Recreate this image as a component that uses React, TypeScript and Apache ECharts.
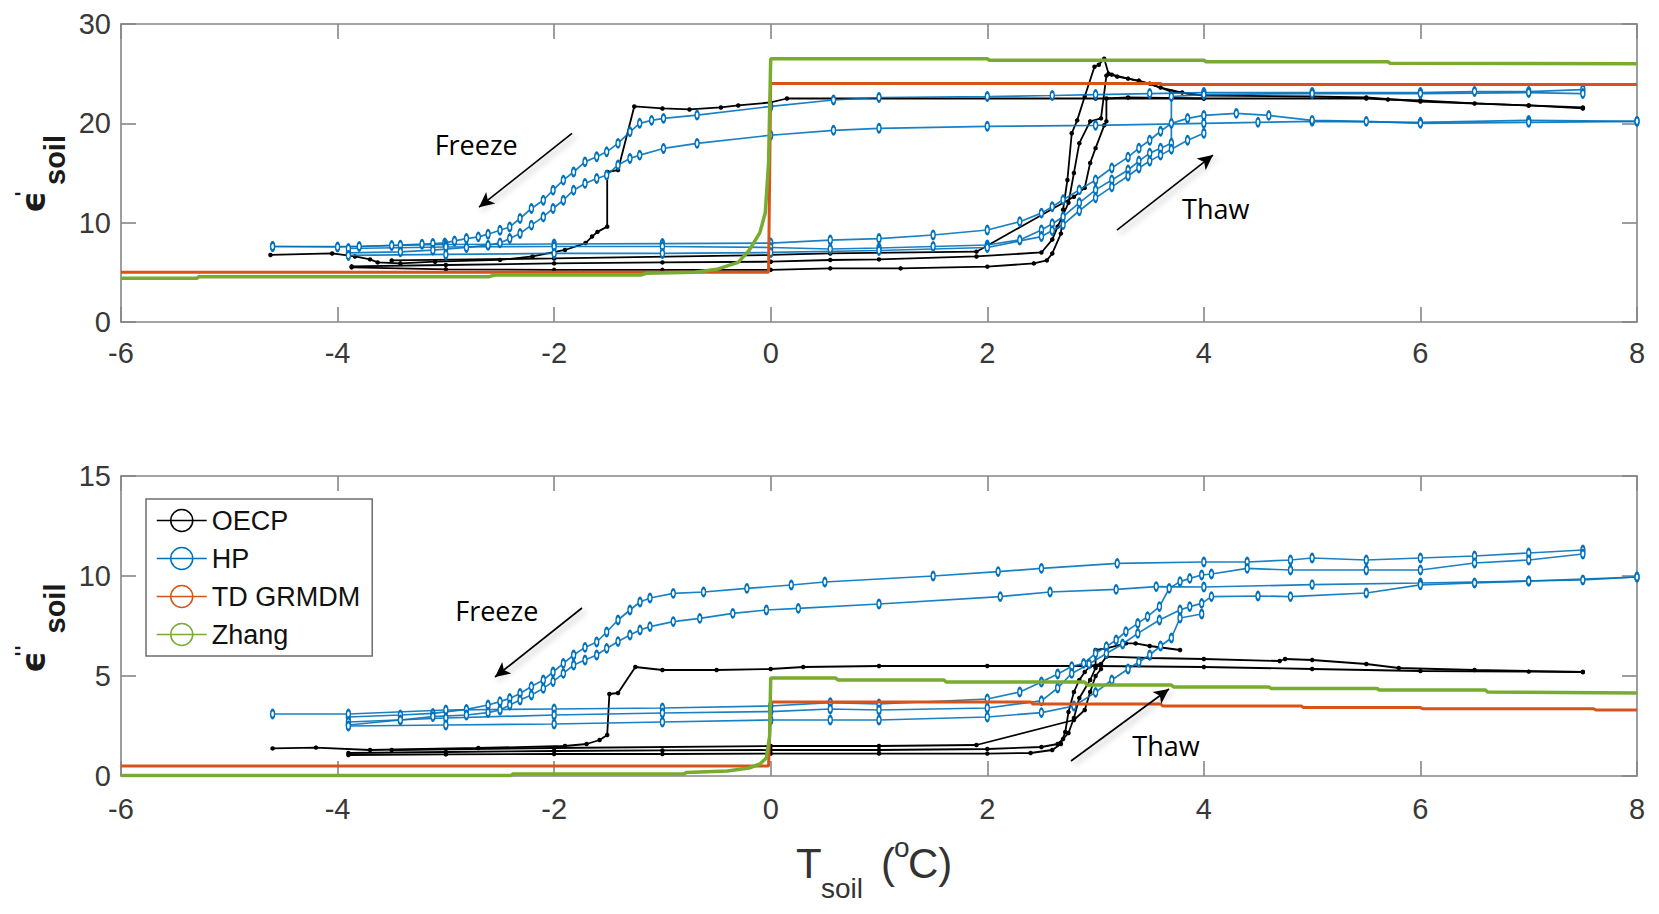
import { useEffect, useRef } from 'react';
import * as echarts from 'echarts';

// axis ranges: [min, max, interval]
const T_AXIS = [-6, 8, 2];
const EPS1_AXIS = [0, 30, 10];
const EPS2_AXIS = [0, 15, 5];

const MODELS = ['OECP', 'HP', 'TD GRMDM', 'Zhang'];
const COLORS = ['#000000', '#0072BD', '#D95319', '#77AC30'];

// ---- ε' (top panel) ----
const OECP_TOP_1 = [[7.5, 21.6], [7, 21.8], [6.5, 22.0], [6, 22.3], [5.7, 22.4], [5.5, 22.5], [4, 22.5], [3, 22.5], [2, 22.5], [1, 22.5], [0.15, 22.5], [0, 22.1], [-0.3, 21.8], [-0.46, 21.6], [-0.75, 21.4], [-1.0, 21.5], [-1.26, 21.7], [-1.41, 15.3], [-1.51, 15.1], [-1.51, 9.6], [-1.6, 9.07], [-1.65, 8.6], [-1.71, 7.95], [-1.9, 7.25], [-2.2, 6.6], [-2.5, 6.25], [-3.1, 6.07], [-3.42, 5.9], [-3.63, 6.0], [-3.7, 6.3], [-3.84, 6.6], [-4.05, 6.9], [-4.62, 6.75]];
const OECP_TOP_2 = [[-3.87, 5.5], [-3, 5.3], [-2, 5.25], [-1, 5.25], [0, 5.25], [0.55, 5.4], [1.2, 5.4], [2, 5.57], [2.43, 5.9], [2.55, 6.2], [2.6, 6.9], [2.68, 8.9], [2.7, 11.3], [2.74, 14.3], [2.78, 19], [2.83, 20.3], [2.9, 22.7], [2.99, 25.7], [3.03, 25.9], [3.08, 26.5], [3.12, 25.0], [3.2, 24.7], [3.4, 24.3], [3.6, 23.6], [3.8, 23.1], [4, 22.8], [5, 22.7], [5.5, 22.6], [6, 22.2], [7, 21.8], [7.5, 21.5]];
const OECP_TOP_3 = [[-3.87, 5.6], [-3, 5.74], [-2, 5.9], [-1, 6.0], [0, 6.07], [0.55, 6.24], [1, 6.3], [1.9, 6.6], [2.5, 7.0], [2.6, 8.3], [2.65, 9.6], [2.75, 12], [2.8, 15], [2.85, 18], [2.95, 20.2], [3.05, 20.5], [3.1, 24.8], [3.15, 24.9], [3.3, 24.5], [3.5, 24.0], [3.7, 23.2], [4, 22.8]];
const OECP_TOP_4 = [[-3.5, 6.2], [-2, 6.4], [0, 6.75], [0.55, 6.9], [1.9, 7.08], [2.8, 12.6], [2.9, 13.5], [2.95, 16], [3.0, 17.5], [3.08, 19.8], [3.1, 20.2], [3.1, 22.5], [3.3, 22.6], [4, 22.5]];

const HP_TOP_1 = [[7.5, 23.4], [7, 23.2], [6.5, 23.2], [6, 23.1], [5, 23.1], [4, 23.1], [3.5, 23.0], [3, 22.9], [2.6, 22.8], [2, 22.7], [1, 22.6], [0.58, 22.35], [0, 21.7], [-0.68, 20.83], [-0.99, 20.5], [-1.1, 20.3], [-1.21, 20.0], [-1.3, 19.15], [-1.41, 17.98], [-1.515, 17.13], [-1.607, 16.63], [-1.715, 16.12], [-1.82, 15.1], [-1.915, 14.28], [-2.01, 13.27], [-2.1, 12.26], [-2.21, 11.43], [-2.315, 10.42], [-2.41, 9.57], [-2.5, 9.24], [-2.61, 8.84], [-2.7, 8.57], [-2.81, 8.4], [-2.92, 8.16], [-3.01, 7.96], [-3.12, 7.9], [-3.22, 7.83], [-3.42, 7.73], [-3.8, 7.6], [-4.6, 7.6]];
const HP_TOP_2 = [[8, 20.2], [7, 20.3], [6, 20.1], [5, 20.2], [4.5, 20.1], [4, 20.0], [3, 19.8], [2, 19.7], [1, 19.5], [0.58, 19.3], [0, 18.8], [-0.68, 17.98], [-0.99, 17.47], [-1.21, 16.8], [-1.3, 16.46], [-1.41, 15.8], [-1.515, 14.78], [-1.607, 14.45], [-1.715, 13.95], [-1.82, 13.27], [-1.915, 12.26], [-2.01, 11.43], [-2.1, 10.58], [-2.21, 9.75], [-2.315, 8.91], [-2.41, 8.4], [-2.5, 7.96], [-2.61, 7.73], [-2.81, 7.5], [-3.12, 7.23], [-3.42, 7.06], [-3.9, 6.95]];
const HP_TOP_3 = [[-4.6, 7.6], [-4, 7.55], [-3.5, 7.7], [-3, 7.8], [-2, 7.85], [-1, 7.9], [0, 7.95], [0.55, 8.25], [1, 8.4], [1.5, 8.76], [2, 9.26], [2.3, 10.1], [2.5, 10.96], [2.6, 11.6], [2.7, 12.3], [2.85, 13.3], [3, 14.3], [3.15, 15.5], [3.3, 16.6], [3.4, 17.5], [3.5, 18.3], [3.6, 19.2], [3.7, 20.0], [3.85, 20.5], [4, 20.8], [4.3, 21.0], [4.6, 20.8], [5, 20.3], [5.5, 20.2], [6, 20.0], [7, 20.1], [8, 20.2]];
const HP_TOP_4 = [[-3.9, 7.4], [-3, 7.55], [-2, 7.6], [-1, 7.6], [0, 7.5], [0.55, 7.35], [1, 7.45], [1.5, 7.6], [2, 7.75], [2.3, 8.26], [2.5, 9.26], [2.6, 9.9], [2.7, 10.6], [2.85, 12.0], [3, 13.3], [3.15, 14.3], [3.3, 15.3], [3.4, 16.2], [3.5, 17], [3.6, 17.5], [3.7, 18], [3.7, 22.7], [4, 22.9], [5, 23.0], [6, 23.0], [7, 23.1], [7.5, 23.0]];
const HP_TOP_5 = [[-3.9, 6.7], [-3, 6.8], [-2, 6.9], [-1, 6.9], [0, 7.0], [1, 7.2], [2, 7.5], [2.5, 8.6], [2.6, 9.2], [2.7, 9.8], [2.85, 11.2], [3, 12.5], [3.15, 13.6], [3.3, 14.7], [3.4, 15.5], [3.5, 16.2], [3.6, 16.8], [3.7, 17.4], [3.85, 18.3], [4, 19.0]];

const TD_TOP = [[-6, 5], [-0.02, 5], [0, 24], [3.6, 24], [3.62, 23.9], [8, 23.9]];
const ZHANG_TOP = [[-6, 4.4], [-5.3, 4.4], [-5.28, 4.56], [-2.6, 4.56], [-2.55, 4.73], [-1.2, 4.73], [-1.15, 4.9], [-0.7, 5.0], [-0.5, 5.3], [-0.3, 6.0], [-0.2, 7.2], [-0.1, 9], [-0.05, 11], [-0.02, 16], [0, 26.5], [2, 26.5], [2.02, 26.35], [4, 26.35], [4.02, 26.2], [5.7, 26.2], [5.72, 26.05], [8, 26.0]];

// ---- ε'' (bottom panel) ----
const OECP_BOT_1 = [[7.5, 5.2], [7, 5.22], [6, 5.25], [5, 5.35], [4, 5.45], [3, 5.5], [2, 5.5], [1, 5.5], [0.3, 5.45], [0, 5.35], [-0.5, 5.3], [-1, 5.3], [-1.25, 5.45], [-1.41, 4.15], [-1.49, 4.1], [-1.51, 2.05], [-1.58, 1.8], [-1.7, 1.6], [-1.9, 1.5], [-2.7, 1.4], [-3.7, 1.3], [-4.2, 1.42], [-4.6, 1.38]];
const OECP_BOT_2 = [[-3.9, 1.05], [-3, 1.08], [-2, 1.1], [-1, 1.1], [0, 1.12], [1, 1.12], [2, 1.12], [2.4, 1.15], [2.6, 1.3], [2.68, 1.6], [2.72, 2.2], [2.75, 3.2], [2.8, 4.2], [2.85, 4.8], [2.9, 5.2], [2.95, 5.5], [3.05, 5.6], [3.1, 5.97], [3.5, 5.9], [4, 5.85], [4.7, 5.75], [4.75, 5.85], [5, 5.8], [5.5, 5.6], [5.8, 5.4], [6.5, 5.3], [7.5, 5.2]];
const OECP_BOT_3 = [[-3.9, 1.15], [-3, 1.2], [-2, 1.25], [-1, 1.28], [0, 1.3], [1, 1.3], [2, 1.35], [2.5, 1.45], [2.65, 1.6], [2.7, 1.85], [2.75, 2.15], [2.8, 2.9], [2.85, 3.9], [2.95, 4.8], [3.0, 5.4], [3.0, 6.3], [3.1, 6.38], [3.28, 6.63], [3.37, 6.63], [3.5, 6.5], [3.78, 6.3]];
const OECP_BOT_4 = [[-3.5, 1.3], [-2, 1.4], [0, 1.5], [1, 1.5], [1.9, 1.55], [2.8, 2.8], [2.9, 3.3], [2.95, 4.2], [3.0, 5.0], [3.05, 5.35]];

const HP_BOT_1 = [[7.5, 11.3], [7, 11.15], [6.5, 11.0], [6, 10.9], [5.5, 10.8], [5, 10.9], [4.8, 10.8], [4.4, 10.7], [4, 10.7], [3.2, 10.63], [2.5, 10.38], [2.1, 10.22], [1.5, 10.0], [0.5, 9.7], [0.19, 9.55], [-0.22, 9.38], [-0.62, 9.2], [-0.9, 9.13], [-1.115, 8.9], [-1.207, 8.7], [-1.3, 8.3], [-1.41, 7.8], [-1.515, 7.2], [-1.607, 6.7], [-1.715, 6.43], [-1.82, 6.05], [-1.915, 5.63], [-2.01, 5.2], [-2.1, 4.8], [-2.21, 4.47], [-2.315, 4.13], [-2.41, 3.88], [-2.5, 3.72], [-2.61, 3.55], [-2.81, 3.33], [-3.12, 3.13], [-3.42, 3.05], [-3.9, 2.95]];
const HP_BOT_2 = [[8, 9.95], [7, 9.75], [6, 9.65], [5, 9.57], [4, 9.45], [3.56, 9.47], [3.19, 9.33], [2.58, 9.2], [2.12, 8.97], [1, 8.6], [0.255, 8.38], [-0.04, 8.3], [-0.35, 8.13], [-0.655, 7.88], [-0.9, 7.72], [-1.115, 7.47], [-1.207, 7.3], [-1.3, 7.05], [-1.41, 6.72], [-1.515, 6.38], [-1.607, 6.05], [-1.715, 5.8], [-1.82, 5.55], [-1.915, 5.13], [-2.01, 4.72], [-2.1, 4.38], [-2.21, 4.05], [-2.315, 3.8], [-2.41, 3.55], [-2.5, 3.3], [-2.61, 3.17], [-2.81, 3.05], [-3.12, 2.97], [-3.42, 2.8], [-3.9, 2.55]];
const HP_BOT_3 = [[-4.6, 3.1], [-3.9, 3.1], [-3, 3.3], [-2, 3.35], [-1, 3.4], [0, 3.5], [0.55, 3.67], [1, 3.6], [2, 3.85], [2.3, 4.2], [2.5, 4.7], [2.65, 5.1], [2.78, 5.47], [2.89, 5.63], [3.0, 6.13], [3.1, 6.47], [3.19, 6.8], [3.28, 7.22], [3.39, 7.63], [3.48, 7.97], [3.59, 8.47], [3.68, 9.38], [3.78, 9.72], [3.87, 9.88], [3.98, 10.05], [4.07, 10.1], [4.4, 10.38], [4.8, 10.3], [5.5, 10.3], [6, 10.3], [6.5, 10.65], [7, 10.8], [7.5, 11.1]];
const HP_BOT_4 = [[-3.9, 2.7], [-3, 2.9], [-2, 3.05], [-1, 3.15], [0, 3.22], [0.55, 3.35], [1, 3.3], [2, 3.4], [2.5, 3.76], [2.65, 4.4], [2.78, 5.13], [2.94, 5.6], [3.1, 6.13], [3.25, 6.6], [3.39, 7.13], [3.59, 7.8], [3.78, 8.3], [3.87, 8.47], [3.98, 8.63], [4.07, 8.97], [4.5, 9.0], [4.8, 8.97], [5.5, 9.15], [6, 9.56], [6.5, 9.65], [7, 9.75], [7.5, 9.8], [8, 9.95]];
const HP_BOT_5 = [[-3.9, 2.5], [-3, 2.55], [-2, 2.6], [-1, 2.7], [0, 2.8], [0.55, 2.8], [1, 2.8], [2, 2.95], [2.5, 3.17], [2.8, 3.5], [3, 4.18], [3.15, 4.8], [3.3, 5.35], [3.4, 5.7], [3.5, 6.05], [3.6, 6.5], [3.7, 6.9], [3.78, 7.9], [3.98, 8.1]];

const TD_BOT = [[-6, 0.5], [-0.02, 0.5], [0, 3.7], [2.4, 3.7], [2.42, 3.6], [3.6, 3.6], [3.62, 3.5], [4.9, 3.5], [4.92, 3.42], [6.0, 3.42], [6.02, 3.36], [7.6, 3.36], [7.62, 3.3], [8, 3.3]];
const ZHANG_BOT = [[-6, 0.02], [-2.4, 0.02], [-2.38, 0.1], [-0.8, 0.1], [-0.78, 0.18], [-0.4, 0.25], [-0.2, 0.4], [-0.1, 0.6], [-0.04, 0.9], [-0.01, 2], [0, 4.9], [0.6, 4.9], [0.62, 4.8], [1.6, 4.8], [1.62, 4.7], [2.9, 4.7], [2.92, 4.55], [3.7, 4.55], [3.72, 4.45], [4.6, 4.45], [4.62, 4.38], [5.6, 4.38], [5.62, 4.3], [6.6, 4.3], [6.62, 4.2], [8, 4.15]];

// annotations: arrow [tail, head], label position
const FREEZE_ARROW_TOP = [[-1.835, 19.0], [-2.694, 11.56]];
const THAW_ARROW_TOP = [[3.197, 9.24], [4.084, 16.8]];
const FREEZE_ARROW_BOT = [[-1.743, 8.4], [-2.546, 4.95]];
const THAW_ARROW_BOT = [[2.773, 0.75], [3.678, 4.35]];
const FREEZE_LABEL_TOP = [-2.72, 17.9];
const THAW_LABEL_TOP = [4.11, 11.4];
const FREEZE_LABEL_BOT = [-2.53, 8.3];
const THAW_LABEL_BOT = [3.65, 1.55];

const SANS = '"Liberation Sans", Arial, Helvetica, sans-serif';
const CAL = '"Open Sans", "Noto Sans", sans-serif';
const AXIS_GREY = '#868686';
const TEXT_GREY = '#383838';

const LINE_STYLES: Record<string, any> = {
  OECP: { width: 1.8, symbol: 'circle', symbolSize: 4.5, border: 0 },
  HP: { width: 1.7, symbol: 'emptyCircle', symbolSize: [4, 8], border: 1.3 },
  'TD GRMDM': { width: 3, symbol: 'none', symbolSize: 0, border: 0 },
  Zhang: { width: 3.5, symbol: 'none', symbolSize: 0, border: 0 },
};

function lineSeries(name: string, data: number[][], axis: number) {
  const st = LINE_STYLES[name];
  const color = COLORS[MODELS.indexOf(name)];
  return {
    type: 'line',
    name,
    xAxisIndex: axis,
    yAxisIndex: axis,
    data,
    symbol: st.symbol,
    symbolSize: st.symbolSize,
    showSymbol: st.symbol !== 'none',
    lineStyle: { color, width: st.width, opacity: name === 'HP' ? 0.9 : 1 },
    itemStyle: { color, borderColor: color, borderWidth: st.border },
    silent: true,
    clip: true,
    z: 2 + MODELS.indexOf(name),
  };
}

function annotationSeries(axis: number, arrows: number[][][], labels: { name: string; coord: number[] }[]) {
  return {
    type: 'line',
    xAxisIndex: axis,
    yAxisIndex: axis,
    data: [],
    silent: true,
    z: 10,
    markLine: {
      silent: true,
      animation: false,
      symbol: ['none', 'arrow'],
      symbolSize: [11, 15],
      label: { show: false },
      lineStyle: {
        color: '#000',
        width: 1.6,
        type: 'solid',
        shadowBlur: 6,
        shadowColor: 'rgba(0,0,0,0.35)',
        shadowOffsetX: 3,
        shadowOffsetY: 3,
      },
      data: arrows.map(([a, b]) => [{ coord: a }, { coord: b }]),
    },
    markPoint: {
      silent: true,
      animation: false,
      symbol: 'circle',
      symbolSize: 0,
      label: {
        show: true,
        position: 'inside',
        formatter: '{b}',
        color: '#000',
        fontSize: 27,
        fontFamily: CAL,
      },
      data: labels.map((l) => ({ name: l.name, coord: l.coord })),
    },
  };
}

function xAxisPair(grid: number) {
  const common = {
    type: 'value',
    gridIndex: grid,
    min: T_AXIS[0],
    max: T_AXIS[1],
    interval: T_AXIS[2],
    splitLine: { show: false },
    axisLine: { show: true, onZero: false, lineStyle: { color: AXIS_GREY, width: 1.6 } },
    axisTick: { show: true, inside: true, length: 15, lineStyle: { color: AXIS_GREY, width: 1.6 } },
  };
  return [
    {
      ...common,
      position: 'bottom',
      axisLabel: { color: TEXT_GREY, fontSize: 29, fontFamily: SANS, margin: grid === 0 ? 16 : 18 },
    },
    { ...common, position: 'top', axisLabel: { show: false } },
  ];
}

function yAxisPair(grid: number, range: number[]) {
  const common = {
    type: 'value',
    gridIndex: grid,
    min: range[0],
    max: range[1],
    interval: range[2],
    splitLine: { show: false },
    axisLine: { show: true, onZero: false, lineStyle: { color: AXIS_GREY, width: 1.6 } },
    axisTick: { show: true, inside: true, length: 15, lineStyle: { color: AXIS_GREY, width: 1.6 } },
  };
  return [
    {
      ...common,
      position: 'left',
      axisLabel: { color: TEXT_GREY, fontSize: 29, fontFamily: SANS, margin: 10 },
    },
    { ...common, position: 'right', axisLabel: { show: false } },
  ];
}

// rotated ε label: group origin at the bottom end of the label
function yTitle(bottomY: number, primes: string, soilStart: number) {
  const dv = (size: number) => `bold ${size}px "DejaVu Sans", sans-serif`;
  return {
    type: 'group',
    x: 0,
    y: bottomY,
    rotation: Math.PI / 2,
    children: [
      { type: 'text', x: -1, y: 33, style: { text: 'ϵ', font: dv(34), fill: '#1a1a1a', verticalAlign: 'middle', align: 'left' } },
      { type: 'text', x: 15, y: 22, style: { text: primes, font: dv(20), fill: '#1a1a1a', verticalAlign: 'middle', align: 'left' } },
      { type: 'text', x: soilStart, y: 55.3, style: { text: 'soil', font: `bold 29px ${SANS}`, fill: '#1a1a1a', verticalAlign: 'middle', align: 'left' } },
    ],
  };
}

function xTitle() {
  const t = (text: string, x: number, y: number, size: number) => ({
    type: 'text',
    x,
    y,
    style: { text, font: `${size}px ${SANS}`, fill: '#333', verticalAlign: 'middle', align: 'left' },
  });
  return {
    type: 'group',
    children: [
      t('T', 796, 863.4, 42),
      t('soil', 821, 888.3, 28),
      t('(', 881, 863.4, 42),
      t('o', 894, 847.3, 28),
      t('C)', 908, 863.4, 42),
    ],
  };
}

export default function App() {
  const chartRef = useRef<HTMLDivElement>(null);

  useEffect(() => {
    if (!chartRef.current) return;
    const chart = echarts.init(chartRef.current, null, { renderer: 'svg' });

    const legendIcon = 'path://M0,12L50,12M36,12A11,11,0,1,1,14,12A11,11,0,1,1,36,12Z';

    const option: any = {
      animation: false,
      backgroundColor: '#fff',
      grid: [
        { left: 121, top: 24, width: 1516, height: 298, containLabel: false },
        { left: 121, top: 476, width: 1516, height: 300, containLabel: false },
      ],
      xAxis: [...xAxisPair(0), ...xAxisPair(1)],
      yAxis: [...yAxisPair(0, EPS1_AXIS), ...yAxisPair(1, EPS2_AXIS)],
      legend: {
        orient: 'vertical',
        left: 146,
        top: 499,
        padding: [8, 12, 8, 10],
        itemGap: 11,
        itemWidth: 50,
        itemHeight: 22,
        backgroundColor: '#fff',
        borderColor: '#6e6e6e',
        borderWidth: 1.5,
        borderRadius: 0,
        selectedMode: false,
        textStyle: { fontSize: 27, fontFamily: SANS, color: '#111' },
        data: MODELS.map((m, i) => ({
          name: m,
          icon: legendIcon,
          itemStyle: { color: 'rgba(0,0,0,0)', borderColor: COLORS[i], borderWidth: 1.5 },
        })),
      },
      graphic: [yTitle(212, "'", 27), yTitle(672, "''", 38.5), xTitle()],
      series: [
        ...[OECP_TOP_1, OECP_TOP_2, OECP_TOP_3, OECP_TOP_4].map((d) => lineSeries('OECP', d, 0)),
        ...[HP_TOP_1, HP_TOP_2, HP_TOP_3, HP_TOP_4, HP_TOP_5].map((d) => lineSeries('HP', d, 0)),
        lineSeries('TD GRMDM', TD_TOP, 0),
        lineSeries('Zhang', ZHANG_TOP, 0),
        ...[OECP_BOT_1, OECP_BOT_2, OECP_BOT_3, OECP_BOT_4].map((d) => lineSeries('OECP', d, 2)),
        ...[HP_BOT_1, HP_BOT_2, HP_BOT_3, HP_BOT_4, HP_BOT_5].map((d) => lineSeries('HP', d, 2)),
        lineSeries('TD GRMDM', TD_BOT, 2),
        lineSeries('Zhang', ZHANG_BOT, 2),
        annotationSeries(0, [FREEZE_ARROW_TOP, THAW_ARROW_TOP], [
          { name: 'Freeze', coord: FREEZE_LABEL_TOP },
          { name: 'Thaw', coord: THAW_LABEL_TOP },
        ]),
        annotationSeries(2, [FREEZE_ARROW_BOT, THAW_ARROW_BOT], [
          { name: 'Freeze', coord: FREEZE_LABEL_BOT },
          { name: 'Thaw', coord: THAW_LABEL_BOT },
        ]),
      ],
    };

    chart.setOption(option);

    const onResize = () => chart.resize();
    window.addEventListener('resize', onResize);
    return () => {
      window.removeEventListener('resize', onResize);
      chart.dispose();
    };
  }, []);

  return (
    <div
      ref={chartRef}
      style={{ position: 'absolute', left: 0, top: 0, width: 1659, height: 914, background: '#fff' }}
    />
  );
}
